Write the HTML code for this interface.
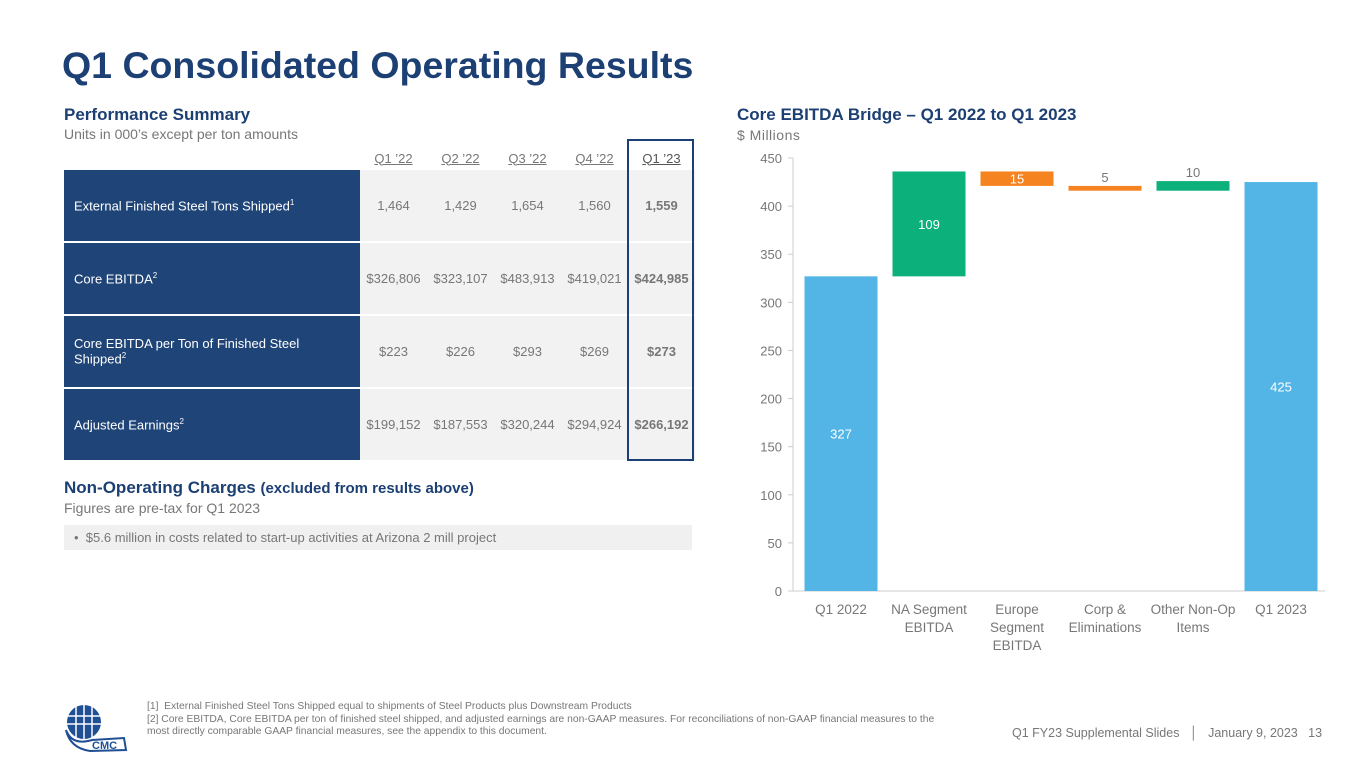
<!DOCTYPE html>
<html><head><meta charset="utf-8"><style>
body{margin:0;width:1365px;height:768px;background:#fff;font-family:"Liberation Sans",sans-serif;position:relative;overflow:hidden}
.a{position:absolute}
.title{left:62px;top:44px;font-size:37.5px;font-weight:bold;color:#1c3f74}
.h2{font-size:17px;font-weight:bold;color:#1c3f74}
.sub{font-size:14px;color:#777}
table{position:absolute;left:64px;top:146px;border-collapse:collapse;font-size:13px}
td{padding:0;height:71px;border-bottom:2px solid #fff}
td.l{background:#1f4477;color:#fff;width:286px;padding-left:10px}
td.v{background:#f2f2f2;color:#777;text-align:center;width:67px}
th{font-weight:normal;color:#777;text-decoration:underline;height:22px;font-size:13px}
.hl{font-weight:bold;color:#555}
sup{font-size:8px}
</style></head><body>
<div class="a title">Q1 Consolidated Operating Results</div>
<div class="a h2" style="left:64px;top:105px">Performance Summary</div>
<div class="a sub" style="left:64px;top:126px">Units in 000’s except per ton amounts</div>
<table>
<tr><th></th><th>Q1 ’22</th><th>Q2 ’22</th><th>Q3 ’22</th><th>Q4 ’22</th><th class="hl" style="font-weight:normal;color:#555">Q1 ’23</th></tr>
<tr><td class="l">External Finished Steel Tons Shipped<sup>1</sup></td><td class="v">1,464</td><td class="v">1,429</td><td class="v">1,654</td><td class="v">1,560</td><td class="v hl">1,559</td></tr>
<tr><td class="l">Core EBITDA<sup>2</sup></td><td class="v">$326,806</td><td class="v">$323,107</td><td class="v">$483,913</td><td class="v">$419,021</td><td class="v hl">$424,985</td></tr>
<tr><td class="l">Core EBITDA per Ton of Finished Steel<br>Shipped<sup>2</sup></td><td class="v">$223</td><td class="v">$226</td><td class="v">$293</td><td class="v">$269</td><td class="v hl">$273</td></tr>
<tr><td class="l">Adjusted Earnings<sup>2</sup></td><td class="v">$199,152</td><td class="v">$187,553</td><td class="v">$320,244</td><td class="v">$294,924</td><td class="v hl">$266,192</td></tr>
</table>
<div class="a" style="left:627px;top:139px;width:63px;height:318px;border:2px solid #1c3f74"></div>
<div class="a h2" style="left:64px;top:478px">Non-Operating Charges <span style="font-size:15px">(excluded from results above)</span></div>
<div class="a sub" style="left:64px;top:500px">Figures are pre-tax for Q1 2023</div>
<div class="a" style="left:64px;top:525px;width:618px;height:25px;background:#f0f0f0;font-size:13px;color:#777;line-height:25px;padding-left:10px">•&nbsp; $5.6 million in costs related to start-up activities at Arizona 2 mill project</div>
<div class="a h2" style="left:737px;top:105px">Core EBITDA Bridge – Q1 2022 to Q1 2023</div>
<div class="a sub" style="left:737px;top:127px;letter-spacing:.5px">$ Millions</div>
<svg class="a" style="left:0;top:0" width="1365" height="768" id="chart"></svg>
<div class="a" style="left:147px;top:701px;font-size:10.3px;color:#777;line-height:12.5px">[1]&nbsp; External Finished Steel Tons Shipped equal to shipments of Steel Products plus Downstream Products<br>[2] Core EBITDA, Core EBITDA per ton of finished steel shipped, and adjusted earnings are non-GAAP measures. For reconciliations of non-GAAP financial measures to the<br>most directly comparable GAAP financial measures, see the appendix to this document.</div>
<div class="a" style="left:1012px;top:726px;font-size:12.5px;color:#777">Q1 FY23 Supplemental Slides &nbsp; │ &nbsp; January 9, 2023 &nbsp; 13</div>
<svg class="a" style="left:62px;top:702px" width="70" height="50">
<circle cx="22" cy="20" r="17" fill="#1f4f95"/>
<g stroke="#fff" stroke-width="1.5"><line x1="5" y1="14" x2="39" y2="14"/><line x1="5" y1="22" x2="39" y2="22"/><line x1="14" y1="3" x2="14" y2="37"/><line x1="22" y1="3" x2="22" y2="37"/><line x1="30" y1="3" x2="30" y2="37"/></g>
<path d="M4 28 Q10 44 30 38 L62 36 L64 48 L28 49 Q8 46 4 28Z" fill="#fff" stroke="#1f4f95" stroke-width="2"/>
<text x="30" y="47" font-size="11" font-weight="bold" fill="#1f4f95" font-family="Liberation Sans">CMC</text>
</svg>
<script>
const categories=["Q1 2022","NA Segment\nEBITDA","Europe\nSegment\nEBITDA","Corp &\nEliminations","Other Non-Op\nItems","Q1 2023"];
const startValue=327;
const deltas=[109,-15,-5,10];
const endValue=425;
const yTicks=[0,50,100,150,200,250,300,350,400,450];
const svg=document.getElementById('chart');
const NS='http://www.w3.org/2000/svg';
const y0=591,ppu=433/450,x0=797,band=88;
const y=v=>y0-v*ppu;
const xc=i=>x0+band*(i+0.5);
function el(t,a){const e=document.createElementNS(NS,t);for(const k in a)e.setAttribute(k,a[k]);svg.appendChild(e);return e;}
const ax=el('line',{x1:793,x2:793,y1:158,y2:591,stroke:'#ccc'});


const bx=el('line',{x1:793,x2:1325,y1:591,y2:591,stroke:'#ccc'});


yTicks.forEach(t=>{el('line',{x1:788,x2:793,y1:y(t),y2:y(t),stroke:'#ccc'});
const tx=el('text',{x:782,y:y(t)+5,'text-anchor':'end','font-size':13,fill:'#777'});tx.textContent=t;

});
function bar(i,lo,hi,color,label,inside){
const r=el('rect',{x:xc(i)-36.5,width:73,y:y(hi),height:Math.max(y(lo)-y(hi),1),fill:color});


const ty=inside?(y(hi)+y(lo))/2+5:y(hi)-4;
const t=el('text',{x:xc(i),y:ty,'text-anchor':'middle','font-size':13,fill:inside?'#fff':'#777'});
t.textContent=label;

}
bar(0,0,startValue,'#52b5e5',startValue,true);
let run=startValue;
deltas.forEach((d,k)=>{const lo=Math.min(run,run+d),hi=Math.max(run,run+d);const ins=Math.abs(d)>=12;
bar(k+1,lo,hi,d>=0?'#0cb07a':'#f5831f',Math.abs(d),ins);run+=d;});
bar(5,0,endValue,'#52b5e5',endValue,true);
categories.forEach((c,i)=>{c.split('\n').forEach((s,j)=>{const t=el('text',{x:xc(i),y:614+j*18,'text-anchor':'middle','font-size':13.5,fill:'#777'});t.textContent=s;

});});
</script>
</body></html>
